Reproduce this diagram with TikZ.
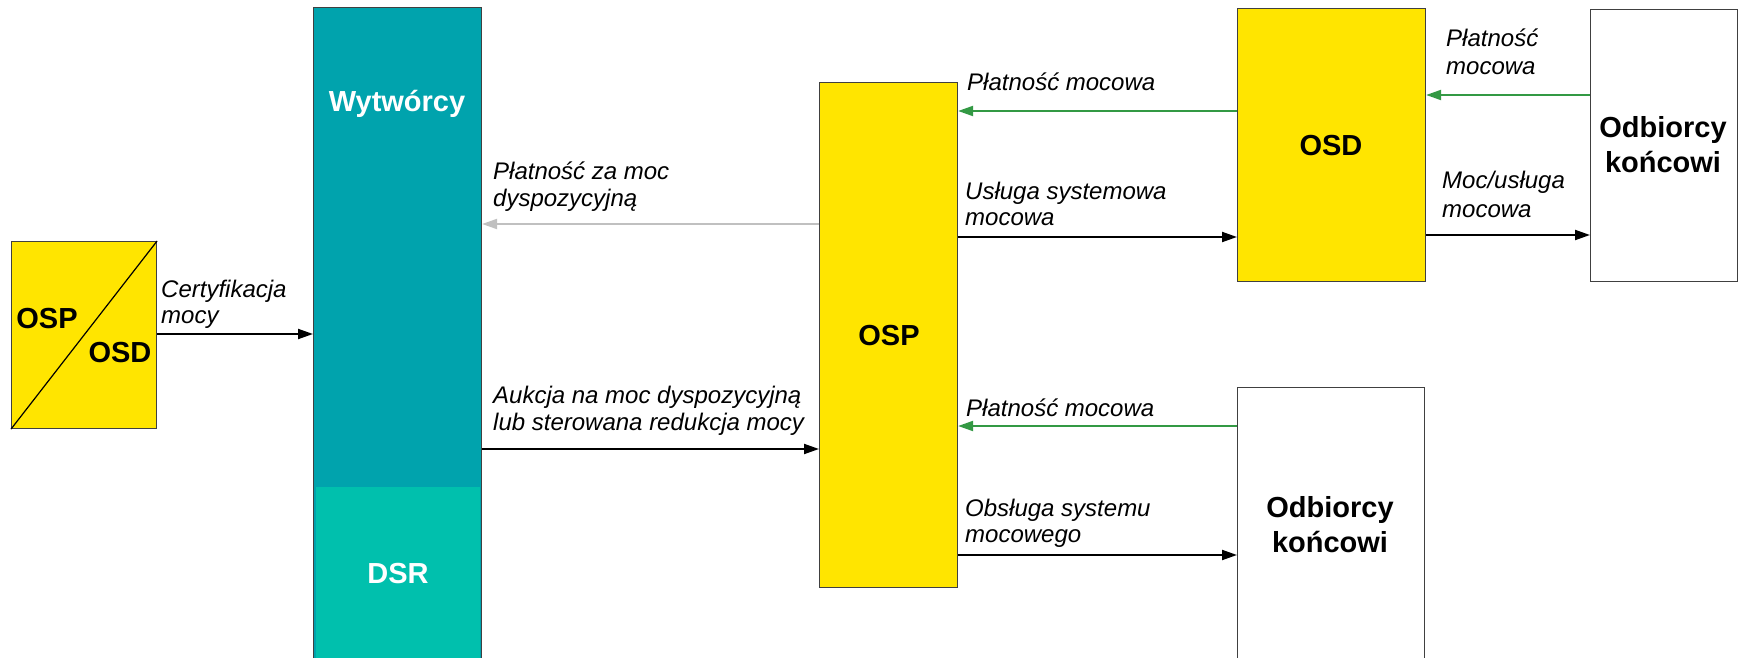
\documentclass[tikz,border=0pt]{standalone}
\usepackage{fontspec}
\setmainfont{Liberation Sans}
\usetikzlibrary{arrows.meta}
\definecolor{oyellow}{HTML}{FFE500}
\definecolor{oteal}{HTML}{00A3AD}
\definecolor{odsr}{HTML}{00C0AD}
\definecolor{ogreen}{RGB}{51,153,68}
\definecolor{ogray}{HTML}{C0C0C0}
\definecolor{oborder}{HTML}{404040}
\begin{document}
\begin{tikzpicture}[x=1pt,y=-1pt,
  box/.style={draw=oborder, line width=1.1pt, inner sep=0pt, anchor=north west},
  ybox/.style={box, fill=oyellow},
  wbox/.style={box, fill=white},
  tbox/.style={box, fill=oteal},
  big/.style={font=\fontsize{29}{34}\selectfont\bfseries, align=center, inner sep=0pt},
  lbl/.style={font=\fontsize{24}{27}\selectfont\itshape, align=left, inner sep=0pt, anchor=base west},
  tip/.style={-{Triangle[length=15pt,width=10pt]}},
  blk/.style={tip, line width=2pt, black},
  grn/.style={tip, line width=2pt, ogreen},
  gry/.style={tip, line width=2pt, ogray},
]
\useasboundingbox (0,0) rectangle (1743,658);

% boxes
\node[ybox, minimum width=145pt, minimum height=187pt] (osposd) at (11,241) {};
\draw[line width=1.2pt] (osposd.south west) -- (osposd.north east);
\node[big, anchor=base] (tosp1) at (47,328) {OSP};
\node[big, anchor=base] (tosd1) at (120,362) {OSD};

\node[tbox, minimum width=168pt, minimum height=690pt] (wyt) at (313,7) {};
\node[fill=odsr, inner sep=0pt, anchor=north west, minimum width=164pt, minimum height=200pt] (dsr) at (316,487) {};
\node[big, white, anchor=base] (twyt) at (397,112) {Wytwórcy};
\node[big, white, anchor=base] (tdsr) at (398,583) {DSR};

\node[ybox, minimum width=138pt, minimum height=505pt] (osp) at (819,82) {};
\node[big, anchor=base] (tosp) at (889,345) {OSP};

\node[ybox, minimum width=188pt, minimum height=273pt] (osd) at (1237,8) {};
\node[big, anchor=base] (tosd) at (1331,156) {OSD};

\node[wbox, minimum width=147pt, minimum height=272pt] (odb1) at (1590,9) {};
\node[big, anchor=base] (todb1a) at (1663,138) {Odbiorcy};
\node[big, anchor=base] (todb1b) at (1663,172) {końcowi};

\node[wbox, minimum width=187pt, minimum height=300pt] (odb2) at (1237,387) {};
\node[big, anchor=base] (todb2a) at (1330,517) {Odbiorcy};
\node[big, anchor=base] (todb2b) at (1330,552) {końcowi};

% connectors
\draw[blk] (osposd.east |- 0,334) -- (wyt.west |- 0,334);
\draw[gry] (osp.west |- 0,224) -- (wyt.east |- 0,224);
\draw[blk] (wyt.east |- 0,449) -- (osp.west |- 0,449);
\draw[grn] (osd.west |- 0,111) -- (osp.east |- 0,111);
\draw[blk] (osp.east |- 0,237) -- (osd.west |- 0,237);
\draw[grn] (odb2.west |- 0,426) -- (osp.east |- 0,426);
\draw[blk] (osp.east |- 0,555) -- (odb2.west |- 0,555);
\draw[grn] (odb1.west |- 0,95) -- (osd.east |- 0,95);
\draw[blk] (osd.east |- 0,235) -- (odb1.west |- 0,235);

% labels
\node[lbl] (l1a) at (161,297) {Certyfikacja};
\node[lbl] (l1b) at (161,323) {mocy};
\node[lbl] (l2a) at (493,179) {Płatność za moc};
\node[lbl] (l2b) at (493,206) {dyspozycyjną};
\node[lbl] (l3a) at (493,403) {Aukcja na moc dyspozycyjną};
\node[lbl] (l3b) at (493,430) {lub sterowana redukcja mocy};
\node[lbl] (l4) at (967,91) {Płatność mocowa};
\node[lbl] (l5a) at (965,199) {Usługa systemowa};
\node[lbl] (l5b) at (965,225) {mocowa};
\node[lbl] (l6) at (966,416) {Płatność mocowa};
\node[lbl] (l7a) at (965,516) {Obsługa systemu};
\node[lbl] (l7b) at (965,542) {mocowego};
\node[lbl] (l8a) at (1446,47) {Płatność};
\node[lbl] (l8b) at (1446,75) {mocowa};
\node[lbl] (l9a) at (1442,188) {Moc/usługa};
\node[lbl] (l9b) at (1442,217) {mocowa};
\end{tikzpicture}
\end{document}
